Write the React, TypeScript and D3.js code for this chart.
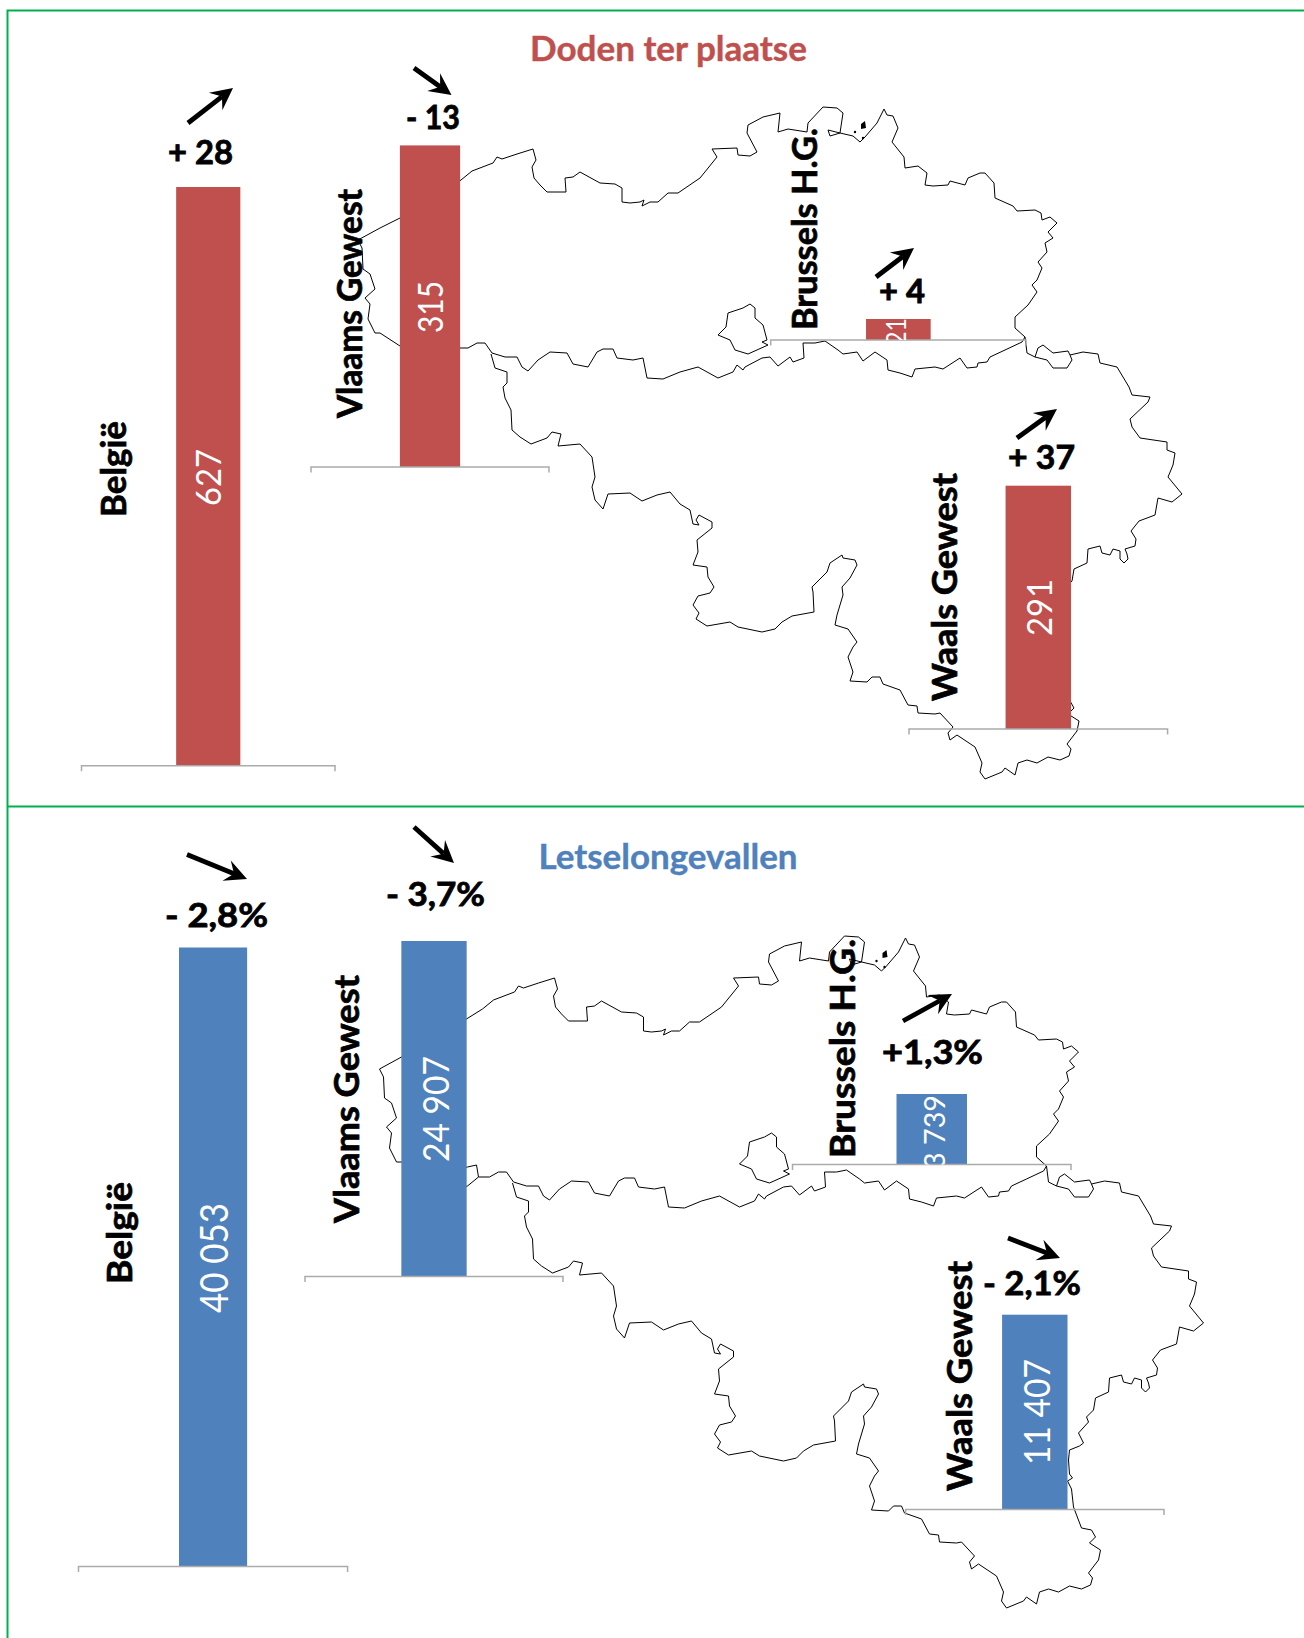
import React from "react";
import * as d3 from "d3";

type P = [number, number];

// ---- data -------------------------------------------------------------
const categories = ["België", "Vlaams Gewest", "Brussels H.G.", "Waals Gewest"];
const deaths = [627, 315, 21, 291];
const deathLabels = ["627", "315", "21", "291"];
const deathDeltas = ["+ 28", "- 13", "+ 4", "+ 37"];
const injuries = [40053, 24907, 3739, 11407];
const injuryLabels = ["40 053", "24 907", "3 739", "11 407"];
const injuryDeltas = ["- 2,8%", "- 3,7%", "+1,3%", "- 2,1%"];

// ---- layout -----------------------------------------------------------
const RED = "#C0504D";
const BLUE = "#4F81BD";
const GREEN = "#00B050";
const AXIS = "#ABABAB";
const FONT = "Lato, 'Open Sans', sans-serif";

// [axisLeft, axisRight, baseY, barTopY]
const deathFrames = [
  [81.5, 335, 765.7, 187],
  [311, 549, 467, 145.4],
  [770.7, 1026, 340, 319],
  [909, 1167.6, 729, 485.7],
];
const injuryFrames = [
  [78.5, 347.6, 1566.5, 947.5],
  [305, 563, 1276.5, 941],
  [792.5, 1071, 1164.5, 1094],
  [905.6, 1164, 1509.5, 1314.7],
];
// [baselineX, bottomY, length]
const deathCatPos = [
  [126, 517, 96],
  [362, 418, 229],
  [817, 330, 202],
  [957, 701, 228],
];
const injuryCatPos = [
  [132, 1284, 102],
  [359, 1223, 248],
  [855, 1158, 219],
  [972, 1491, 230],
];
// [baselineX, bottomY, length, fontSize]
const deathValPos = [
  [221, 506, 57, 35],
  [443, 333, 52, 35],
  [906, 345, 27, 27],
  [1052, 636, 57, 35],
];
const injuryValPos = [
  [228, 1313, 110, 38],
  [449, 1162, 106, 37],
  [945, 1169, 74, 28],
  [1050, 1465, 106, 37],
];
// [x, baseline, length]
const deathDeltaPos = [
  [168, 164, 65],
  [406, 129, 54],
  [879, 303, 46],
  [1008, 469, 67],
];
const injuryDeltaPos = [
  [165, 926.5, 103],
  [386, 906, 99],
  [882, 1064, 101],
  [983, 1295, 98],
];
// [x1, y1, x2, y2]
const deathArrows = [
  [188, 123, 233, 88],
  [414, 68, 451.5, 95],
  [876, 277, 914, 248],
  [1017, 438, 1057, 409],
];
const injuryArrows = [
  [187, 854.5, 247, 879],
  [414, 827, 454, 863],
  [903, 1021, 952, 994],
  [1008, 1238, 1060, 1258],
];

const mapShift: P = [21.5, 829];

// ---- map outlines -----------------------------------------------------
const flanders: P[] = [
  [358,240],[380,228],[400,218],[461,180],[472,171],[493,163],[497,157],[502,159],[517,154],[533,149],[536,160],[532,167],[534,178],[540,185],[547,192],[566,192],[565,178],[573,177],[580,172],[600,183],[615,184],[622,188],[622,202],[630,203],[640,202],[644,200],[642,206],[650,202],[658,202],[668,193],[678,193],[700,178],[717,157],[712,149],[737,148],[738,155],[750,156],[757,152],[747,133],[748,125],[763,117],[780,113],[778,132],[788,129],[807,132],[808,123],[823,107],[837,108],[843,113],[840,133],[828,130],[830,136],[840,133],[853,136],[860,142],[865,137],[877,123],[884,109],[887,115],[893,116],[898,128],[892,142],[904,157],[905,168],[918,166],[927,173],[925,185],[933,186],[948,185],[950,181],[965,185],[968,178],[980,173],[985,173],[994,183],[995,198],[1013,206],[1017,211],[1035,210],[1041,213],[1042,220],[1050,217],[1057,223],[1048,232],[1053,238],[1045,243],[1047,252],[1038,262],[1042,268],[1037,280],[1032,285],[1037,292],[1028,305],[1015,317],[1015,328],[1025,337],[1022,342],[1005,350],[990,357],[987,362],[978,363],[977,367],[967,368],[960,358],[943,369],[935,367],[915,369],[912,377],[900,373],[888,370],[887,360],[875,352],[863,361],[857,352],[843,354],[838,350],[825,341],[815,343],[803,343],[804,358],[793,362],[790,357],[778,366],[770,357],[762,358],[745,367],[743,370],[737,365],[733,372],[718,378],[698,367],[680,372],[663,379],[647,378],[643,358],[633,360],[617,358],[613,349],[603,349],[597,352],[588,367],[573,364],[567,353],[550,352],[538,360],[528,371],[522,367],[517,357],[505,357],[492,353],[485,343],[477,343],[468,348],[457,348],[446,357],[430,360],[400,346],[380,333],[375,333],[368,319],[370,304],[365,298],[375,289],[370,274],[363,269],[362,248],[358,240],
];
const wallonia: P[] = [
  [491,354],[495,368],[507,372],[507,383],[503,387],[505,398],[511,410],[512,430],[520,437],[531,444],[547,438],[552,432],[561,434],[558,446],[580,444],[592,457],[595,477],[592,487],[595,500],[603,509],[608,494],[630,493],[642,501],[657,495],[670,492],[680,504],[690,510],[693,524],[699,525],[696,520],[699,515],[712,522],[712,528],[697,540],[698,552],[693,565],[707,567],[708,577],[714,587],[710,593],[698,596],[693,605],[699,613],[696,619],[707,626],[730,622],[738,627],[762,632],[775,629],[782,622],[792,616],[814,612],[813,592],[812,587],[827,572],[830,563],[842,555],[843,558],[855,560],[857,565],[850,578],[842,587],[843,595],[837,615],[835,625],[848,629],[857,642],[853,647],[848,657],[853,672],[850,681],[867,682],[872,677],[880,677],[883,684],[900,690],[908,705],[917,706],[918,713],[935,714],[940,713],[953,727],[948,733],[950,740],[957,735],[975,747],[982,763],[980,772],[985,779],[1002,772],[1005,768],[1015,775],[1018,763],[1027,760],[1037,763],[1048,757],[1060,760],[1069,756],[1071,749],[1067,744],[1077,731],[1079,721],[1068,714],[1074,708],[1070,701],[1060,699],[1052,678],[1050,660],[1046,652],[1051,649],[1048,645],[1047,631],[1048,621],[1058,617],[1062,614],[1057,604],[1067,593],[1065,588],[1072,581],[1074,569],[1087,563],[1088,549],[1100,546],[1102,553],[1110,555],[1113,549],[1120,551],[1120,559],[1124,563],[1128,559],[1127,554],[1125,549],[1135,546],[1136,539],[1131,531],[1139,521],[1155,515],[1158,498],[1172,502],[1182,494],[1168,477],[1173,465],[1175,453],[1167,450],[1167,442],[1140,438],[1132,427],[1130,419],[1148,402],[1150,397],[1132,395],[1129,387],[1117,367],[1100,363],[1098,354],[1083,352],[1070,355],[1072,360],[1067,368],[1053,368],[1047,360],[1035,357],[1027,353],[1025,337],
];
const voeren: P[] = [
  [1035,357],[1038,348],[1043,345],[1053,353],[1068,351],[1070,355],
];
const westSpur: P[] = [
  [457,348],[455,336],[446,338],[430,342],
];
const brussels: P[] = [
  [750,304],[755,308],[755,318],[763,325],[767,340],[762,342],[768,345],[748,354],[735,350],[730,340],[718,335],[726,327],[728,313],[743,308],[750,304],
];
const baarle: P[] = [
  [861,124],[865,121],[866,128],[861,129],
];
const dots: P[] = [
  [855,132],[863,138],
];

const line = d3.line<P>().curve(d3.curveLinear);

function Belgium({ shift }: { shift: P }) {
  return (
    <g transform={`translate(${shift[0]},${shift[1]})`}>
      {[flanders, wallonia, voeren, westSpur, brussels].map((pts, i) => (
        <path key={i} d={line(pts) ?? ""} fill="none" stroke="#000" strokeWidth={1} strokeLinejoin="round" />
      ))}
      <path d={line(baarle) + "Z"} fill="#000" />
      {dots.map((d, i) => (
        <circle key={i} cx={d[0]} cy={d[1]} r={1.2} fill="#000" />
      ))}
    </g>
  );
}

function Arrow({ a }: { a: number[] }) {
  const [x1, y1, x2, y2] = a;
  const ang = Math.atan2(y2 - y1, x2 - x1);
  const len = 22;
  const half = 11;
  const notch = 14;
  const ux = Math.cos(ang), uy = Math.sin(ang);
  const nx = -uy, ny = ux;
  const bx = x2 - ux * len, by = y2 - uy * len;
  const mx = x2 - ux * notch, my = y2 - uy * notch;
  const head: P[] = [
    [x2, y2],
    [bx + nx * half, by + ny * half],
    [mx, my],
    [bx - nx * half, by - ny * half],
  ];
  return (
    <g>
      <line x1={x1} y1={y1} x2={mx} y2={my} stroke="#000" strokeWidth={4.8} />
      <path d={line(head) + "Z"} fill="#000" />
    </g>
  );
}

function Panel(props: {
  id: string;
  values: number[];
  labels: string[];
  deltas: string[];
  frames: number[][];
  catPos: number[][];
  valPos: number[][];
  deltaPos: number[][];
  arrows: number[][];
  color: string;
}) {
  const { id, values, labels, deltas, frames, catPos, valPos, deltaPos, arrows, color } = props;
  return (
    <g>
      {categories.map((c, i) => {
        const [x0, x1, base, top] = frames[i];
        const x = d3.scaleBand<string>().domain([c]).range([x0, x1]).paddingInner(0).paddingOuter(1.475);
        const y = d3.scaleLinear().domain([0, values[i]]).range([base, top]);
        const bx = x(c) ?? 0;
        const bw = x.bandwidth();
        const [vx, vy, vl, vs] = valPos[i];
        const [cx, cy, cl] = catPos[i];
        const [dx, dy, dl] = deltaPos[i];
        const clip = `${id}-clip-${i}`;
        return (
          <g key={c}>
            <clipPath id={clip}>
              <rect x={bx} y={y(values[i])} width={bw} height={y(0) - y(values[i])} />
            </clipPath>
            <rect x={bx} y={y(values[i])} width={bw} height={y(0) - y(values[i])} fill={color} />
            <path d={`M${x0},${base + 5.5}V${base}H${x1}V${base + 5.5}`} fill="none" stroke={AXIS} strokeWidth={1.5} />
            <g clipPath={`url(#${clip})`}>
              <text
                transform={`translate(${vx},${vy}) rotate(-90)`}
                fontFamily={FONT}
                fontSize={vs}
                fill="#fff"
                textLength={vl}
                lengthAdjust="spacingAndGlyphs"
              >
                {labels[i]}
              </text>
            </g>
            <text
              transform={`translate(${cx},${cy}) rotate(-90)`}
              fontFamily={FONT}
              fontWeight={700}
              fontSize={35}
              fill="#000"
              stroke="#000"
              strokeWidth={0.7}
              textLength={cl}
              lengthAdjust="spacingAndGlyphs"
            >
              {c}
            </text>
            <text x={dx} y={dy} fontFamily={FONT} fontWeight={700} fontSize={33} fill="#000" stroke="#000" strokeWidth={0.8} textLength={dl} lengthAdjust="spacingAndGlyphs">
              {deltas[i]}
            </text>
            <Arrow a={arrows[i]} />
          </g>
        );
      })}
    </g>
  );
}

export default function App() {
  return (
    <svg
      width={1304}
      height={1638}
      viewBox="0 0 1304 1638"
      style={{ position: "absolute", left: 0, top: 0, display: "block", background: "#fff" }}
    >
      <path d="M1304,10.5H7.5V1638" fill="none" stroke={GREEN} strokeWidth={2} />
      <line x1={7.5} x2={1304} y1={806.5} y2={806.5} stroke={GREEN} strokeWidth={2} />

      <Belgium shift={[0, 0]} />
      <Belgium shift={mapShift} />

      <text x={530} y={61} fontFamily={FONT} fontWeight={700} fontSize={34} fill={RED} stroke={RED} strokeWidth={0.4} textLength={277} lengthAdjust="spacingAndGlyphs">
        Doden ter plaatse
      </text>
      <text x={538.5} y={869} fontFamily={FONT} fontWeight={700} fontSize={34} fill={BLUE} stroke={BLUE} strokeWidth={0.4} textLength={259} lengthAdjust="spacingAndGlyphs">
        Letselongevallen
      </text>

      <Panel id="d" values={deaths} labels={deathLabels} deltas={deathDeltas} frames={deathFrames} catPos={deathCatPos} valPos={deathValPos} deltaPos={deathDeltaPos} arrows={deathArrows} color={RED} />
      <Panel id="i" values={injuries} labels={injuryLabels} deltas={injuryDeltas} frames={injuryFrames} catPos={injuryCatPos} valPos={injuryValPos} deltaPos={injuryDeltaPos} arrows={injuryArrows} color={BLUE} />
    </svg>
  );
}
